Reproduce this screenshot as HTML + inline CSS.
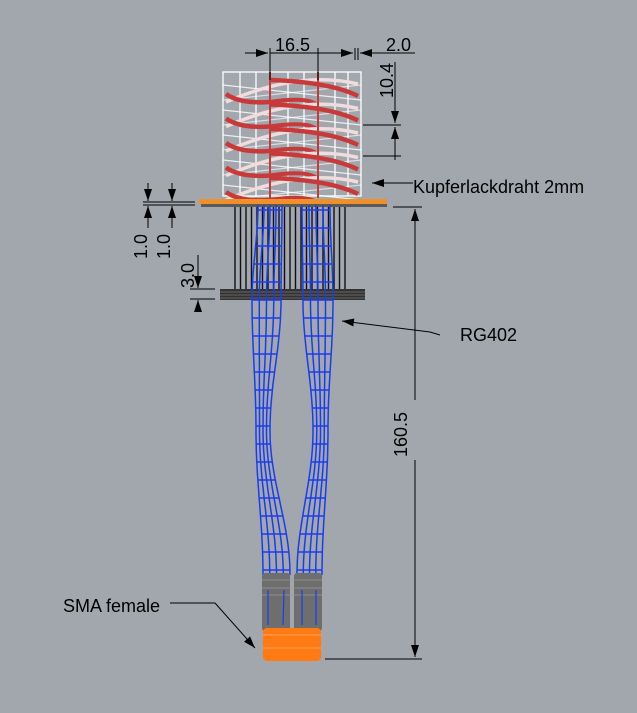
<!DOCTYPE html>
<html><head><meta charset="utf-8"><style>
html,body{margin:0;padding:0;background:#a2a7ae;}
svg{display:block;}
text{font-family:"Liberation Sans",sans-serif;font-size:18px;fill:#000;}
</style></head><body>
<svg id="s" width="637" height="713" viewBox="0 0 637 713" xmlns="http://www.w3.org/2000/svg">
<defs>
<marker id="a" markerWidth="12" markerHeight="8" refX="12" refY="4" orient="auto" markerUnits="userSpaceOnUse"><path d="M0,0 L12,4 L0,8 z" fill="#000"/></marker>
</defs>
<g id="cage" stroke="#fff" stroke-width="1.3" fill="none"></g>
<g id="coil" fill="none"></g>
<rect x="199" y="199" width="188" height="5" fill="#f0902a"/>
<rect x="201" y="204" width="186" height="3" fill="#5a5a5a"/>
<g id="rods" stroke="#111" stroke-width="1.4"></g>
<rect x="220" y="289" width="145" height="11" fill="#333"/>
<g stroke="#777" stroke-width="0.8"><line x1="220" y1="292" x2="365" y2="292"/><line x1="220" y1="295" x2="365" y2="295"/><line x1="220" y1="298" x2="365" y2="298"/></g>
<g id="cab" fill="none"></g>
<rect x="262" y="573" width="28" height="58" rx="3" fill="#6e6e6e"/>
<rect x="294" y="573" width="28" height="58" rx="3" fill="#6e6e6e"/>
<g stroke="#999" stroke-width="0.8"><line x1="262" y1="580" x2="322" y2="580"/><line x1="262" y1="588" x2="322" y2="588"/><line x1="262" y1="595" x2="322" y2="595"/></g>
<g stroke="#1a3cf0" stroke-width="1.2"><line x1="268" y1="590" x2="268" y2="625"/><line x1="284" y1="590" x2="283" y2="625"/><line x1="302" y1="590" x2="302" y2="625"/><line x1="316" y1="590" x2="316" y2="625"/></g>
<rect x="263" y="628" width="58" height="33" rx="4" fill="#ff7a12"/>
<g stroke="#ffb070" stroke-width="0.8"><line x1="263" y1="635" x2="321" y2="635"/><line x1="263" y1="648" x2="321" y2="648"/></g>
<g stroke="#000" stroke-width="1" fill="none">
<line x1="245" y1="53" x2="268" y2="53" marker-end="url(#a)"/>
<line x1="270" y1="48" x2="270" y2="80"/>
<line x1="318" y1="48" x2="318" y2="80"/>
<line x1="270" y1="53" x2="318" y2="53"/>
<line x1="355" y1="48" x2="355" y2="60"/>
<line x1="358" y1="48" x2="358" y2="60"/>
<line x1="318" y1="53" x2="353" y2="53" marker-end="url(#a)"/>
<line x1="385" y1="53" x2="360" y2="53" marker-end="url(#a)"/>
<line x1="368" y1="53" x2="415" y2="53"/>
<line x1="395" y1="62" x2="395" y2="123" marker-end="url(#a)"/>
<line x1="363" y1="125" x2="401" y2="125"/>
<line x1="363" y1="156" x2="401" y2="156"/>
<line x1="395" y1="160" x2="395" y2="127" marker-end="url(#a)"/>
<line x1="413" y1="183" x2="372" y2="183" marker-end="url(#a)"/>
<line x1="143" y1="202" x2="195" y2="202"/>
<line x1="143" y1="205" x2="195" y2="205"/>
<line x1="148" y1="183" x2="148" y2="201" marker-end="url(#a)"/>
<line x1="148" y1="228" x2="148" y2="206" marker-end="url(#a)"/>
<line x1="172" y1="183" x2="172" y2="201" marker-end="url(#a)"/>
<line x1="172" y1="228" x2="172" y2="206" marker-end="url(#a)"/>
<line x1="190" y1="289" x2="215" y2="289"/>
<line x1="190" y1="299" x2="215" y2="299"/>
<line x1="198" y1="255" x2="198" y2="288" marker-end="url(#a)"/>
<line x1="198" y1="312" x2="198" y2="300" marker-end="url(#a)"/>
<line x1="393" y1="207" x2="422" y2="207"/>
<line x1="325" y1="659" x2="422" y2="659"/>
<line x1="415" y1="400" x2="415" y2="209" marker-end="url(#a)"/>
<line x1="415" y1="460" x2="415" y2="657" marker-end="url(#a)"/>
<line x1="440" y1="335" x2="430" y2="332"/>
<line x1="430" y1="332" x2="342" y2="321" marker-end="url(#a)"/>
<polyline points="170,603 215,603"/>
<line x1="215" y1="603" x2="255" y2="648" marker-end="url(#a)"/>
</g>
<text x="275" y="51">16.5</text>
<text x="386" y="51">2.0</text>
<text x="0" y="0" transform="translate(393,98) rotate(-90)">10.4</text>
<text x="0" y="0" transform="translate(147,259) rotate(-90)">1.0</text>
<text x="0" y="0" transform="translate(170,259) rotate(-90)">1.0</text>
<text x="0" y="0" transform="translate(194,288) rotate(-90)">3.0</text>
<text x="0" y="0" transform="translate(407,457) rotate(-90)">160.5</text>
<text x="413" y="193">Kupferlackdraht 2mm</text>
<text x="460" y="341">RG402</text>
<text x="63" y="612">SMA female</text>
</svg>
<script>
var NS="http://www.w3.org/2000/svg";
function el(p,t,a){var e=document.createElementNS(NS,t);for(var k in a)e.setAttribute(k,a[k]);document.getElementById(p).appendChild(e);return e;}
el("cage","rect",{x:223,y:72,width:138,height:124});
[240,256,270,288,304,318,335,348].forEach(function(x){el("cage","line",{x1:x,y1:72,x2:x,y2:196});});
for(var i=0;i<5;i++){var y=85+i*25;el("cage","line",{x1:223,y1:y,x2:361,y2:y+15,"stroke-opacity":0.8});el("cage","line",{x1:223,y1:y+15,x2:361,y2:y,"stroke-opacity":0.6});}
for(var i=0;i<5;i++){var y=80+i*24.5;
 el("coil","path",{d:"M226,"+(y+22)+" Q300,"+(y-10)+" 358,"+(y+4),stroke:"#f0dcdc","stroke-width":3.5});
 el("coil","path",{d:"M226,"+(y+14)+" Q240,"+(y+24)+" 270,"+(y+22),stroke:"#c83a3a","stroke-width":4.5});
 el("coil","path",{d:"M270,"+(y)+" Q330,"+(y+2)+" 358,"+(y+16),stroke:"#c83a3a","stroke-width":4.5});
 el("coil","path",{d:"M270,"+(y+22)+" Q310,"+(y+16)+" 318,"+(y+26),stroke:"#c83a3a","stroke-width":4});
}
el("coil","line",{x1:270,y1:72,x2:270,y2:198,stroke:"#c83a3a","stroke-width":2});
el("coil","line",{x1:318,y1:72,x2:318,y2:198,stroke:"#c83a3a","stroke-width":2});
for(var x=235;x<=350;x+=5.5){el("rods","line",{x1:x,y1:207,x2:x,y2:290});}
function interp(pts,y){for(var i=0;i<pts.length-1;i++){if(y>=pts[i][0]&&y<=pts[i+1][0]){var t=(y-pts[i][0])/(pts[i+1][0]-pts[i][0]);t=(1-Math.cos(Math.PI*t))/2;return [pts[i][1]+(pts[i+1][1]-pts[i][1])*t,pts[i][2]+(pts[i+1][2]-pts[i][2])*t];}}return [pts[0][1],pts[0][2]];}
function bundle(pts){
 var n=5;
 for(var k=0;k<n;k++){var d="";for(var y=205;y<=575;y+=5){var ab=interp(pts,y);var x=ab[0]+(ab[1]-ab[0])*k/(n-1);d+=(y==205?"M":" L")+x.toFixed(1)+","+y;}
  el("cab","path",{d:d,stroke:"#1a3cf0","stroke-width":1.5});}
 for(var y=210;y<575;y+=18){var ab=interp(pts,y);el("cab","line",{x1:ab[0],y1:y,x2:ab[1],y2:y,stroke:"#1a3cf0","stroke-width":1.5});}
}
bundle([[205,258,282],[300,252,281],[430,256,270],[575,263,290]]);
bundle([[205,302,330],[300,303,333],[430,313,328],[575,297,322]]);
</script>
</body></html>
